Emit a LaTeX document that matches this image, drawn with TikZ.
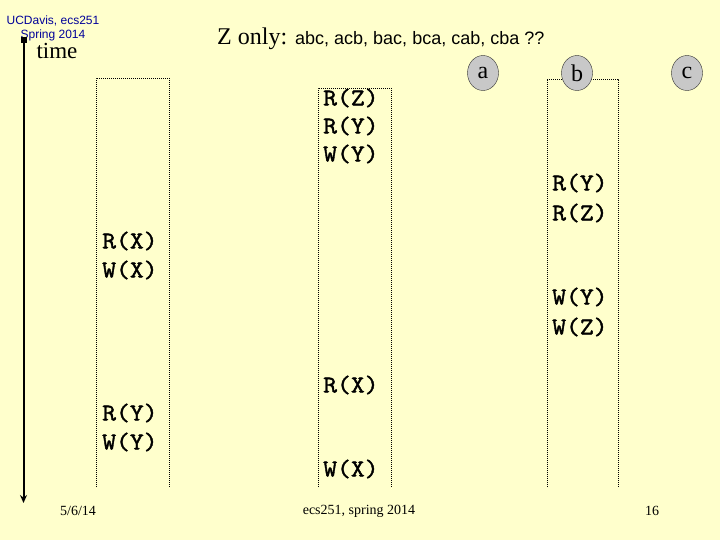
\documentclass[tikz,border=0pt]{standalone}
\usepackage{fontspec}
\setmainfont{Liberation Serif}
\setsansfont{Liberation Sans}
\newfontfamily\opfont{Latin Modern Mono}[FakeStretch=1.12, FakeBold=1.6]
\usetikzlibrary{shapes.geometric,arrows.meta}
\definecolor{bg}{HTML}{FFFFCC}
\definecolor{hdr}{HTML}{000099}
\definecolor{circfill}{HTML}{C8C8C8}
\tikzset{
  op/.style={anchor=west, inner sep=0pt, font=\fontsize{24}{24}\selectfont\opfont},
  lane/.style={line width=0.9pt, dash pattern=on 1pt off 1pt},
  proc/.style={draw=black!80, fill=circfill, ellipse, minimum width=31pt, minimum height=35pt, inner sep=0pt, font=\fontsize{24}{24}\selectfont},
  foot/.style={font=\fontsize{14}{14}\selectfont, inner sep=0pt},
  hdrtxt/.style={font=\fontsize{12}{12}\selectfont\sffamily, text=hdr, inner sep=0pt}
}
\begin{document}
\begin{tikzpicture}[x=1pt,y=-1pt]
\useasboundingbox[fill=bg] (0,0) rectangle (720,540);
% header
\node[hdrtxt] (h1) at (53,21) {UCDavis, ecs251};
\node[hdrtxt] (h2) at (53,35) {Spring 2014};
\node[inner sep=0pt, font=\fontsize{23}{23}\selectfont] (time) at (57,51) {time};
% time arrow
\coordinate (ttop) at (23.5,40);
\coordinate (tbot) at (23.5,503);
\fill (20.5,37) rectangle (26.5,43);
\draw[line width=2pt, -{Stealth[length=8pt,width=7pt]}] (ttop) -- (tbot);
% title
\node[anchor=base west, inner sep=0pt] (title) at (217,45) {\fontsize{24}{24}\selectfont Z only: \fontsize{18}{18}\sffamily abc, acb, bac, bca, cab, cba ??};
% lanes
\draw[lane] (96,487) -- (96,78) -- (169,78) -- (169,487);
\draw[lane] (318,487) -- (318,88) -- (391,88) -- (391,487);
\draw[lane] (547,487) -- (547,79) -- (618,79) -- (618,487);
% processes
\node[proc] (a) at (483,73) {a};
\node[proc] (b) at (577,73) {b};
\node[proc] (c) at (687,73) {c};
% lane a ops
\node[op] (a1) at (323,98) {R(Z)};
\node[op] (a2) at (323,126) {R(Y)};
\node[op] (a3) at (323,154) {W(Y)};
\node[op] (a4) at (323,385) {R(X)};
\node[op] (a5) at (323,469) {W(X)};
% lane b ops
\node[op] (b1) at (552,183) {R(Y)};
\node[op] (b2) at (552,213) {R(Z)};
\node[op] (b3) at (552,297) {W(Y)};
\node[op] (b4) at (552,327) {W(Z)};
% lane 1 ops
\node[op] (c1) at (102,241) {R(X)};
\node[op] (c2) at (102,270) {W(X)};
\node[op] (c3) at (102,413) {R(Y)};
\node[op] (c4) at (102,442) {W(Y)};
% footer
\node[foot] (f1) at (78,511) {5/6/14};
\node[foot] (f2) at (359,511) {ecs251, spring 2014};
\node[foot] (f3) at (652,511) {16};
\end{tikzpicture}
\end{document}
